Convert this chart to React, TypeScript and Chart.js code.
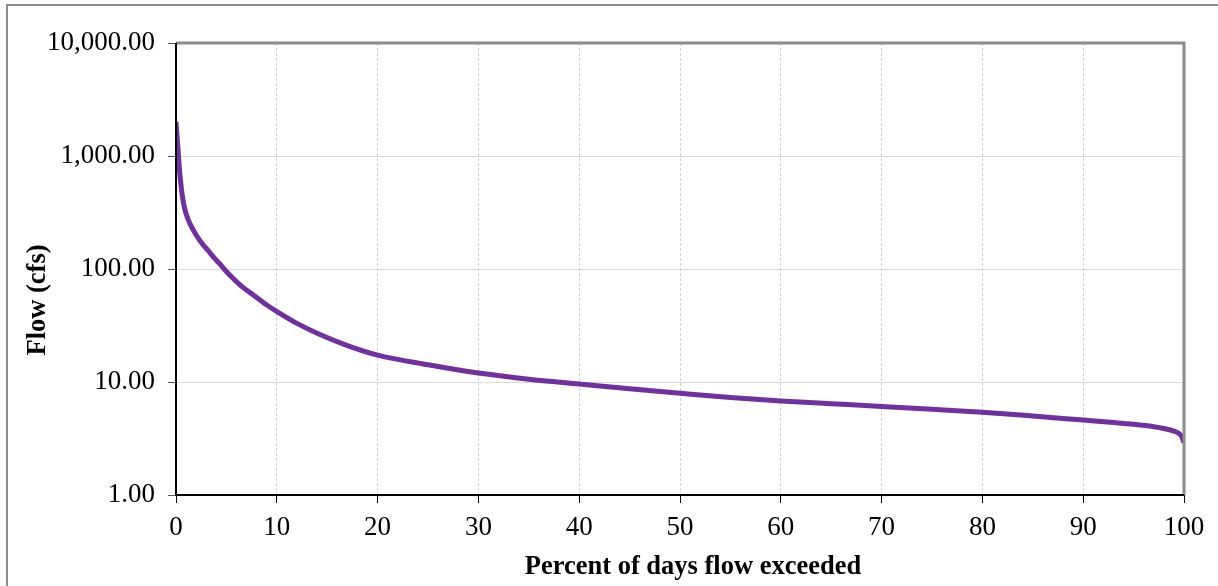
import React, { useEffect, useRef } from "react";
import { Chart, registerables } from "chart.js";

Chart.register(...registerables);

const percentExceeded = [0, 0.1, 0.2, 0.3, 0.45, 0.65, 0.89, 1.2, 1.72, 2.2, 2.71, 3.2, 3.7, 4.3, 4.86, 5.4, 6.02, 6.8, 7.67, 9, 10.3, 12, 14, 17, 20, 25, 30, 35, 40, 45, 50, 55, 60, 65, 70, 75, 80, 85, 90, 93, 95, 97, 98, 99, 99.5, 99.8, 100];
const flowCfs = [2000, 1500, 1150, 850, 600, 430, 333, 275, 221, 188, 163, 145, 128, 112, 98, 87, 77, 67, 59, 48, 40.5, 33, 27, 21, 17.3, 14.2, 12, 10.6, 9.6, 8.7, 7.95, 7.3, 6.8, 6.43, 6.08, 5.74, 5.4, 5.0, 4.6, 4.38, 4.22, 4.02, 3.88, 3.68, 3.5, 3.25, 2.9];
const yTickValues = [1, 10, 100, 1000, 10000];
const xTitle = "Percent of days flow exceeded";
const yTitle = "Flow (cfs)";

const FONT = "'Liberation Serif', 'Times New Roman', serif";

export default function App() {
  const ref = useRef<HTMLCanvasElement>(null);
  useEffect(() => {
    const canvas = ref.current!;
    const decor = {
      id: "decor",
      beforeDraw(chart: any) {
        const ctx = chart.ctx;
        ctx.save();
        ctx.fillStyle = "#fff";
        ctx.fillRect(0, 0, chart.width, chart.height);
        ctx.strokeStyle = "#8c8c8c";
        ctx.lineWidth = 2;
        ctx.beginPath();
        ctx.moveTo(7, chart.height + 5);
        ctx.lineTo(7, 5);
        ctx.lineTo(chart.width + 5, 5);
        ctx.stroke();
        ctx.restore();
      },
      afterDraw(chart: any) {
        const ctx = chart.ctx;
        const a = chart.chartArea;
        ctx.save();
        ctx.strokeStyle = "#8c8c8c";
        ctx.lineWidth = 3;
        ctx.beginPath();
        ctx.moveTo(a.left, a.top);
        ctx.lineTo(a.right, a.top);
        ctx.lineTo(a.right, a.bottom);
        ctx.stroke();
        ctx.strokeStyle = "#000";
        ctx.lineWidth = 2;
        ctx.beginPath();
        ctx.moveTo(a.left, a.top);
        ctx.lineTo(a.left, a.bottom);
        ctx.lineTo(a.right, a.bottom);
        ctx.stroke();
        ctx.fillStyle = "#000";
        ctx.font = "bold 26.5px " + FONT;
        ctx.textAlign = "center";
        ctx.textBaseline = "middle";
        ctx.fillText(xTitle, 693, 567);
        ctx.translate(38, 300);
        ctx.rotate(-Math.PI / 2);
        ctx.fillText(yTitle, 0, 0);
        ctx.restore();
      },
    };
    const chart = new Chart(canvas, {
      type: "line",
      data: {
        datasets: [
          {
            data: percentExceeded.map((p, i) => ({ x: p, y: flowCfs[i] })),
            borderColor: "#7030A0",
            borderWidth: 5,
            pointRadius: 0,
            cubicInterpolationMode: "monotone",
            fill: false,
          },
        ],
      },
      options: {
        animation: false,
        responsive: false,
        layout: { padding: { top: 43, right: 34, left: 0, bottom: 0 } },
        plugins: { legend: { display: false }, tooltip: { enabled: false } },
        scales: {
          x: {
            type: "linear",
            min: 0,
            max: 100,
            afterFit: (s: any) => { s.height = 91; },
            ticks: { stepSize: 10, color: "#000", font: { family: FONT, size: 27 }, padding: 9, maxRotation: 0 },
            grid: { color: "#d0d0d0", lineWidth: 1, tickLength: 8, tickColor: "#000" },
            border: { display: false, dash: [3, 2] },
          },
          y: {
            type: "logarithmic",
            min: 1,
            max: 10000,
            afterFit: (s: any) => { s.width = 176; },
            afterBuildTicks: (s: any) => { s.ticks = yTickValues.map((v) => ({ value: v })); },
            ticks: {
              color: "#000",
              font: { family: FONT, size: 27 },
              padding: 13,
              callback: (v: any) => Number(v).toLocaleString("en-US", { minimumFractionDigits: 2, maximumFractionDigits: 2 }),
            },
            grid: { color: "#d9d9d9", lineWidth: 1, tickLength: 8, tickColor: "#555" },
            border: { display: false },
          },
        },
      },
      plugins: [decor],
    } as any);
    return () => chart.destroy();
  }, []);
  return (
    <div style={{ position: "absolute", left: 0, top: 0, width: 1218, height: 586 }}>
      <canvas ref={ref} width={1218} height={586} />
    </div>
  );
}
